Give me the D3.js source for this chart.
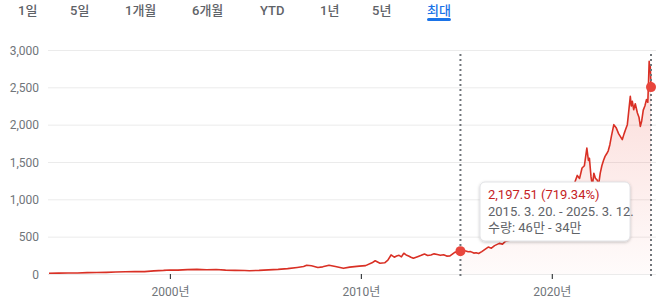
<!DOCTYPE html>
<html><head><meta charset="utf-8">
<script src="https://cdn.jsdelivr.net/npm/d3@7"></script>
<style>
html,body{margin:0;padding:0;background:#fff;}
svg{display:block;font-family:Roboto,"Noto Sans CJK KR",sans-serif;}
</style></head>
<body><svg id="c" width="656" height="298"></svg>
<script>
const tabs = ["1일","5일","1개월","6개월","YTD","1년","5년","최대"];
const activeTab = "최대";
const yTicks = [0,500,1000,1500,2000,2500,3000];
const xTicks = ["2000-01-01","2010-01-01","2020-01-01"];
const dates = [
 "1993-09-01","1994-03-01","1994-09-01","1995-03-01","1995-09-01","1996-03-01","1996-09-01","1997-03-01","1997-09-01","1998-03-01",
 "1998-09-01","1999-03-01","1999-09-01","2000-01-01","2000-06-01","2000-12-01","2001-06-01","2001-12-01","2002-06-01","2002-12-01",
 "2003-06-01","2003-12-01","2004-03-01","2004-09-01","2005-03-01","2005-09-01","2006-03-01","2006-09-01","2007-01-01","2007-03-01",
 "2007-06-01","2007-10-01","2008-01-01","2008-05-01","2008-09-01","2009-02-01","2009-06-01","2009-12-01","2010-04-01","2010-08-01",
 "2010-10-01","2011-01-01","2011-04-01","2011-06-01","2011-08-01","2011-10-01","2011-11-15","2012-01-01","2012-02-15","2012-04-01",
 "2012-05-15","2012-07-01","2012-08-15","2012-10-01","2013-01-01","2013-03-01","2013-05-01","2013-07-01","2013-09-01","2013-11-01",
 "2014-01-01","2014-03-01","2014-05-01","2014-07-01","2014-09-01","2014-12-01","2015-03-20","2015-05-01","2015-06-15","2015-08-15",
 "2015-10-01","2015-12-01","2016-01-15","2016-03-01","2016-05-01","2016-07-01","2016-09-01","2016-11-01","2017-01-01","2017-04-01",
 "2017-06-01","2017-08-01","2017-12-01","2018-04-01","2018-08-01","2018-12-01","2019-04-01","2019-08-01","2019-12-01","2020-03-01",
 "2020-06-01","2020-09-01","2020-12-01","2021-03-01","2021-05-01","2021-06-15","2021-08-01","2021-09-15","2021-11-01","2021-12-01",
 "2021-12-20","2022-01-20","2022-02-15","2022-03-15","2022-04-15","2022-05-15","2022-06-15","2022-07-15","2022-08-15","2022-09-15",
 "2022-10-15","2022-11-15","2022-12-15","2023-01-15","2023-02-15","2023-04-01","2023-05-15","2023-07-01","2023-09-10","2023-10-15",
 "2023-11-10","2023-12-15","2024-01-01","2024-02-10","2024-03-01","2024-03-20","2024-04-15","2024-05-15","2024-06-25","2024-07-25",
 "2024-08-20","2024-09-15","2024-10-15","2024-11-15","2024-12-15","2025-01-10","2025-01-25","2025-02-05","2025-02-15","2025-02-25",
 "2025-03-12"];
const values = [
 10,12,14,13,18,20,22,26,30,34,
 32,42,48,54,52,58,62,56,60,52,
 48,46,44,48,55,62,72,88,100,118,
 110,88,96,118,100,76,92,105,112,150,
 178,145,150,185,255,225,240,250,230,278,
 255,242,225,210,235,250,268,248,255,270,
 262,250,258,240,242,290,306,330,312,298,
 300,280,285,275,300,330,360,345,380,410,
 400,440,460,480,530,500,600,650,720,650,
 900,1050,1150,1200,1320,1280,1420,1450,1687,1520,
 1550,1300,1180,1350,1280,1262,1200,1350,1450,1520,
 1575,1610,1650,1732,1850,2000,1960,1880,1800,1880,
 1933,2000,2111,2380,2250,2313,2200,2280,2157,2100,
 1977,2050,2195,2250,2336,2300,2600,2850,2750,2800,
 2503];
const selStart = "2015-03-20", selEnd = "2025-03-12";
const tipLines = ["2,197.51 (719.34%)","2015. 3. 20. - 2025. 3. 12.","수량: 46만 - 34만"];

const parse = d3.timeParse("%Y-%m-%d");
const data = dates.map((d,i)=>({date:parse(d), value:values[i]}));
const svg = d3.select("#c");

// tabs
const tabX = [18,70,125,192,260,320,372,427];
const tg = svg.append("g");
tabs.forEach((t,i)=>{
  const txt = tg.append("text").attr("x",tabX[i]).attr("y",14.5).attr("font-size",13)
    .attr("fill", t===activeTab ? "#1a73e8" : "#5f6368").attr("font-weight",500).text(t);
  if (t===activeTab) {
    const w = txt.node().getComputedTextLength();
    tg.append("line").attr("x1",tabX[i]+1.5).attr("x2",tabX[i]+w-1.5).attr("y1",19.5).attr("y2",19.5)
      .attr("stroke","#1a73e8").attr("stroke-width",3).attr("stroke-linecap","round");
  }
});

const x = d3.scaleTime().domain([parse("1993-09-01"), parse("2025-03-12")]).range([49,651]);
const y = d3.scaleLinear().domain([0,3000]).range([274,50]);

// grid
svg.append("g").selectAll("line").data(yTicks).join("line")
  .attr("x1",48).attr("x2",656).attr("y1",d=>y(d)+0.5).attr("y2",d=>y(d)+0.5)
  .attr("stroke","#ebebeb").attr("stroke-width",1);
svg.append("g").selectAll("text").data(yTicks).join("text")
  .attr("x",39).attr("y",d=>y(d)+4.5).attr("text-anchor","end").attr("font-size",12)
  .attr("fill","#70757a").text(d=>d3.format(",")(d));

// x axis
const xa = svg.append("g").attr("transform","translate(0,274)")
  .call(d3.axisBottom(x).tickValues(xTicks.map(parse)).tickSize(5).tickPadding(8).tickFormat(d3.timeFormat("%Y년")));
xa.select(".domain").remove();
xa.selectAll(".tick line").attr("stroke","#3c4043").attr("stroke-width",1.2);
xa.selectAll(".tick text").attr("font-size",12).attr("fill","#70757a").attr("font-family",'Roboto,"Noto Sans CJK KR",sans-serif');

// gradient
const defs = svg.append("defs");
const gr = defs.append("linearGradient").attr("id","fillg").attr("x1",0).attr("x2",0).attr("y1",0).attr("y2",1);
gr.append("stop").attr("offset","0%").attr("stop-color","#ea4335").attr("stop-opacity",0.2);
gr.append("stop").attr("offset","100%").attr("stop-color","#ea4335").attr("stop-opacity",0.02);
const sh = defs.append("filter").attr("id","sh").attr("x","-20%").attr("y","-20%").attr("width","140%").attr("height","150%");
sh.append("feDropShadow").attr("dx",0).attr("dy",1).attr("stdDeviation",1.5).attr("flood-color","#000").attr("flood-opacity",0.25);

const s0 = parse(selStart), s1 = parse(selEnd);
const sel = data.filter(d=>d.date>=s0 && d.date<=s1);
svg.append("path").datum(sel).attr("fill","url(#fillg)")
  .attr("d", d3.area().x(d=>x(d.date)).y0(y(0)).y1(d=>y(d.value)));

svg.append("path").datum(data).attr("fill","none").attr("stroke","#d93025").attr("stroke-width",1.6)
  .attr("stroke-linejoin","round").attr("d", d3.line().x(d=>x(d.date)).y(d=>y(d.value)));

// selection dashed lines
[s0,s1].forEach(d=>{
  svg.append("line").attr("x1",x(d)).attr("x2",x(d)).attr("y1",54).attr("y2",277)
    .attr("stroke","#70757a").attr("stroke-width",2).attr("stroke-dasharray","2,3");
});
[sel[0], sel[sel.length-1]].forEach(d=>{
  svg.append("circle").attr("cx",x(d.date)).attr("cy",y(d.value)).attr("r",5).attr("fill","#e8453c");
});

// tooltip
const tip = svg.append("g");
tip.append("rect").attr("x",480).attr("y",182).attr("width",150).attr("height",59).attr("rx",5)
  .attr("fill","#fff").attr("stroke","#dadce0").attr("stroke-width",0.8).attr("filter","url(#sh)");
tipLines.forEach((t,i)=>{
  tip.append("text").attr("x",488).attr("y",199+i*16.5).attr("font-size",13)
    .attr("fill", i===0 ? "#c5221f" : "#5f6368").text(t);
});
</script></body></html>
